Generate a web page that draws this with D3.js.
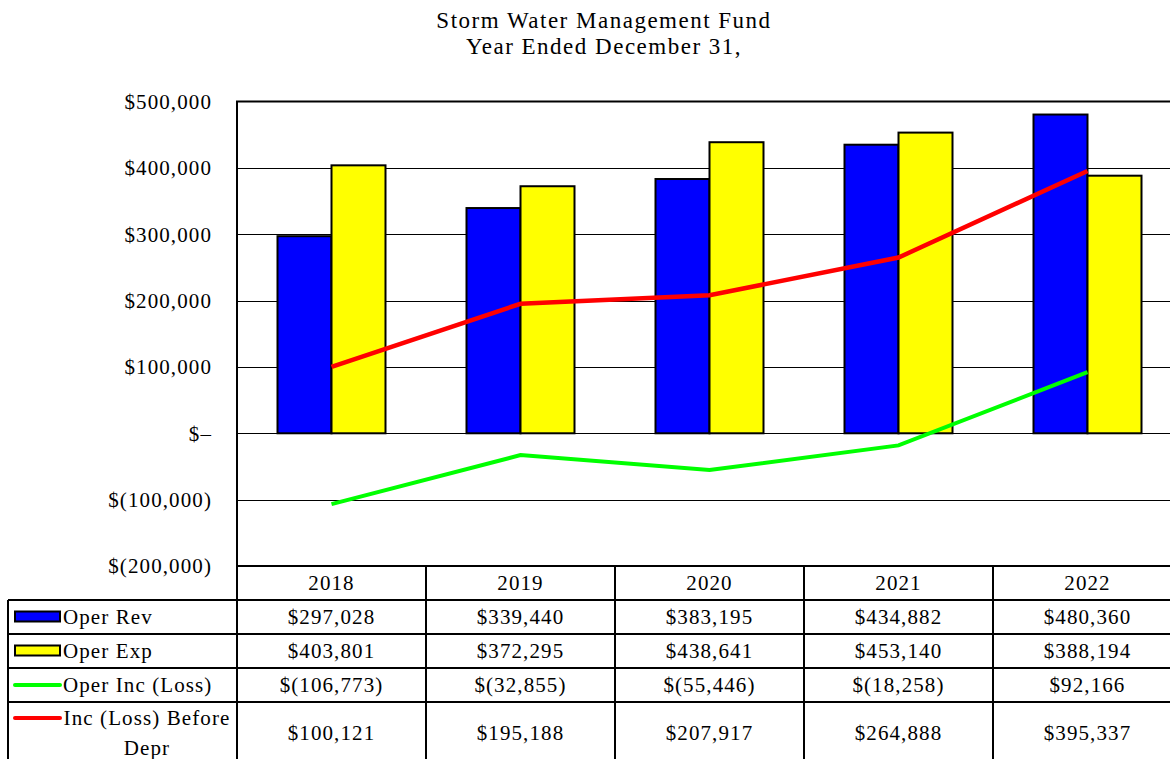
<!DOCTYPE html>
<html>
<head>
<meta charset="utf-8">
<script src="https://cdn.jsdelivr.net/npm/d3@7"></script>
<style>
body { margin: 0; background: #fff; }
text { font-family: "Liberation Serif", "Times New Roman", serif; fill: #000; }
</style>
</head>
<body>
<div id="chart"></div>
<script>
var years = ["2018", "2019", "2020", "2021", "2022"];
var operRev = [297028, 339440, 383195, 434882, 480360];
var operExp = [403801, 372295, 438641, 453140, 388194];
var operInc = [-106773, -32855, -55446, -18258, 92166];
var incBeforeDepr = [100121, 195188, 207917, 264888, 395337];
var yTicks = [500000, 400000, 300000, 200000, 100000, 0, -100000, -200000];
var titleLines = ["Storm Water Management Fund", "Year Ended December 31,"];

var W = 1170, H = 759;
var plot = {left: 237, right: 1182, top: 101.5, bottom: 566};
var rowH = 34;

var svg = d3.select("#chart").append("svg")
    .attr("width", W)
    .attr("height", H);

var x = d3.scaleBand()
    .domain(years)
    .range([plot.left, plot.right]);

var y = d3.scaleLinear()
    .domain([-200000, 500000])
    .range([plot.bottom, plot.top]);

var fmt = d3.format(",");
function money(v) {
    if (v == 0) return "$\u2013";
    return v < 0 ? "$(" + fmt(-v) + ")" : "$" + fmt(v);
}

// shared text style
function txt(sel) {
    return sel.style("font-size", "21px").style("letter-spacing", "1.1px");
}

// title
svg.selectAll(".title")
    .data(titleLines)
    .enter().append("text")
    .attr("class", "title")
    .attr("x", 604)
    .attr("y", function(d, i) { return 28 + i * 26; })
    .attr("text-anchor", "middle")
    .style("font-size", "23px")
    .style("letter-spacing", "1.5px")
    .text(function(d) { return d; });

// gridlines
svg.selectAll(".grid")
    .data(yTicks.filter(function(d) { return d > -200000 && d < 500000; }))
    .enter().append("line")
    .attr("class", "grid")
    .attr("x1", plot.left)
    .attr("x2", W)
    .attr("y1", function(d) { return Math.round(y(d)) + 0.5; })
    .attr("y2", function(d) { return Math.round(y(d)) + 0.5; })
    .attr("stroke", "#000")
    .attr("stroke-width", 1);

// y axis labels
svg.selectAll(".ylab")
    .data(yTicks)
    .enter().append("text")
    .attr("class", "ylab")
    .attr("x", 212)
    .attr("y", function(d) { return y(d); })
    .attr("dy", "0.35em")
    .attr("text-anchor", "end")
    .call(txt)
    .text(function(d) { return money(d); });

// bars
var barW = 54;
var groups = svg.selectAll(".bars")
    .data(years)
    .enter().append("g")
    .attr("class", "bars");

groups.append("rect")
    .attr("x", function(d) { return x(d) + x.bandwidth() / 2 - barW; })
    .attr("y", function(d, i) { return y(operRev[i]); })
    .attr("width", barW)
    .attr("height", function(d, i) { return y(0) - y(operRev[i]); })
    .attr("fill", "#0000ff")
    .attr("stroke", "#000")
    .attr("stroke-width", 2);

groups.append("rect")
    .attr("x", function(d) { return x(d) + x.bandwidth() / 2; })
    .attr("y", function(d, i) { return y(operExp[i]); })
    .attr("width", barW)
    .attr("height", function(d, i) { return y(0) - y(operExp[i]); })
    .attr("fill", "#ffff00")
    .attr("stroke", "#000")
    .attr("stroke-width", 2);

// lines
var line = d3.line()
    .x(function(d, i) { return x(years[i]) + x.bandwidth() / 2; })
    .y(function(d) { return y(d); });

svg.append("path")
    .attr("d", line(operInc))
    .attr("fill", "none")
    .attr("stroke", "#00ff00")
    .attr("stroke-width", 4);

svg.append("path")
    .attr("d", line(incBeforeDepr))
    .attr("fill", "none")
    .attr("stroke", "#ff0000")
    .attr("stroke-width", 4.5);

// plot frame (top and left)
svg.append("path")
    .attr("d", "M" + plot.left + "," + plot.bottom + "V" + plot.top + "H" + W)
    .attr("fill", "none")
    .attr("stroke", "#000")
    .attr("stroke-width", 2);

// data table
var rows = [
    {label: ["Oper Rev"], values: operRev, kind: "bar", color: "#0000ff"},
    {label: ["Oper Exp"], values: operExp, kind: "bar", color: "#ffff00"},
    {label: ["Oper Inc (Loss)"], values: operInc, kind: "line", color: "#00ff00"},
    {label: ["Inc (Loss) Before", "Depr"], values: incBeforeDepr, kind: "line", color: "#ff0000"}
];
var rowTops = [plot.bottom + rowH, plot.bottom + 2 * rowH, plot.bottom + 3 * rowH, plot.bottom + 4 * rowH];
var rowHeights = [rowH, rowH, rowH, 62];

var tbl = svg.append("g");

// header row with years
tbl.selectAll(".yr")
    .data(years)
    .enter().append("text")
    .attr("x", function(d) { return x(d) + x.bandwidth() / 2; })
    .attr("y", plot.bottom + rowH / 2)
    .attr("dy", "0.35em")
    .attr("text-anchor", "middle")
    .call(txt)
    .text(function(d) { return d; });

rows.forEach(function(r, ri) {
    var top = rowTops[ri], h = rowHeights[ri], mid = top + h / 2;
    if (r.kind == "bar") {
        tbl.append("rect")
            .attr("x", 15).attr("y", mid - 5.5)
            .attr("width", 45).attr("height", 10)
            .attr("fill", r.color)
            .attr("stroke", "#000")
            .attr("stroke-width", 2);
    } else {
        var ly = r.label.length > 1 ? top + 16 : mid;
        tbl.append("line")
            .attr("x1", 15).attr("x2", 60)
            .attr("y1", ly).attr("y2", ly)
            .attr("stroke", r.color)
            .attr("stroke-width", 4)
            .attr("stroke-linecap", "round");
    }
    if (r.label.length == 1) {
        tbl.append("text")
            .attr("x", 63).attr("y", mid)
            .attr("dy", "0.35em")
            .call(txt)
            .text(r.label[0]);
    } else {
        r.label.forEach(function(t, k) {
            tbl.append("text")
                .attr("x", 147).attr("y", top + 16 + k * 30)
                .attr("dy", "0.35em")
                .attr("text-anchor", "middle")
                .call(txt)
                .text(t);
        });
    }
    tbl.selectAll(null)
        .data(r.values)
        .enter().append("text")
        .attr("x", function(d, i) { return x(years[i]) + x.bandwidth() / 2; })
        .attr("y", mid)
        .attr("dy", "0.35em")
        .attr("text-anchor", "middle")
        .call(txt)
        .text(function(d) { return money(d); });
});

// table grid lines
var tableBottom = rowTops[3] + rowHeights[3];
var hLines = [{y: plot.bottom, x1: plot.left}].concat(rowTops.map(function(t) { return {y: t, x1: 8}; }));
tbl.selectAll(".hl")
    .data(hLines)
    .enter().append("line")
    .attr("x1", function(d) { return d.x1; })
    .attr("x2", W)
    .attr("y1", function(d) { return d.y; })
    .attr("y2", function(d) { return d.y; })
    .attr("stroke", "#000")
    .attr("stroke-width", 2);

tbl.selectAll(".vl")
    .data(years)
    .enter().append("line")
    .attr("x1", function(d) { return x(d); })
    .attr("x2", function(d) { return x(d); })
    .attr("y1", plot.bottom)
    .attr("y2", tableBottom)
    .attr("stroke", "#000")
    .attr("stroke-width", 2);

tbl.append("line")
    .attr("x1", 8).attr("x2", 8)
    .attr("y1", rowTops[0]).attr("y2", tableBottom)
    .attr("stroke", "#000")
    .attr("stroke-width", 2);
</script>
</body>
</html>
